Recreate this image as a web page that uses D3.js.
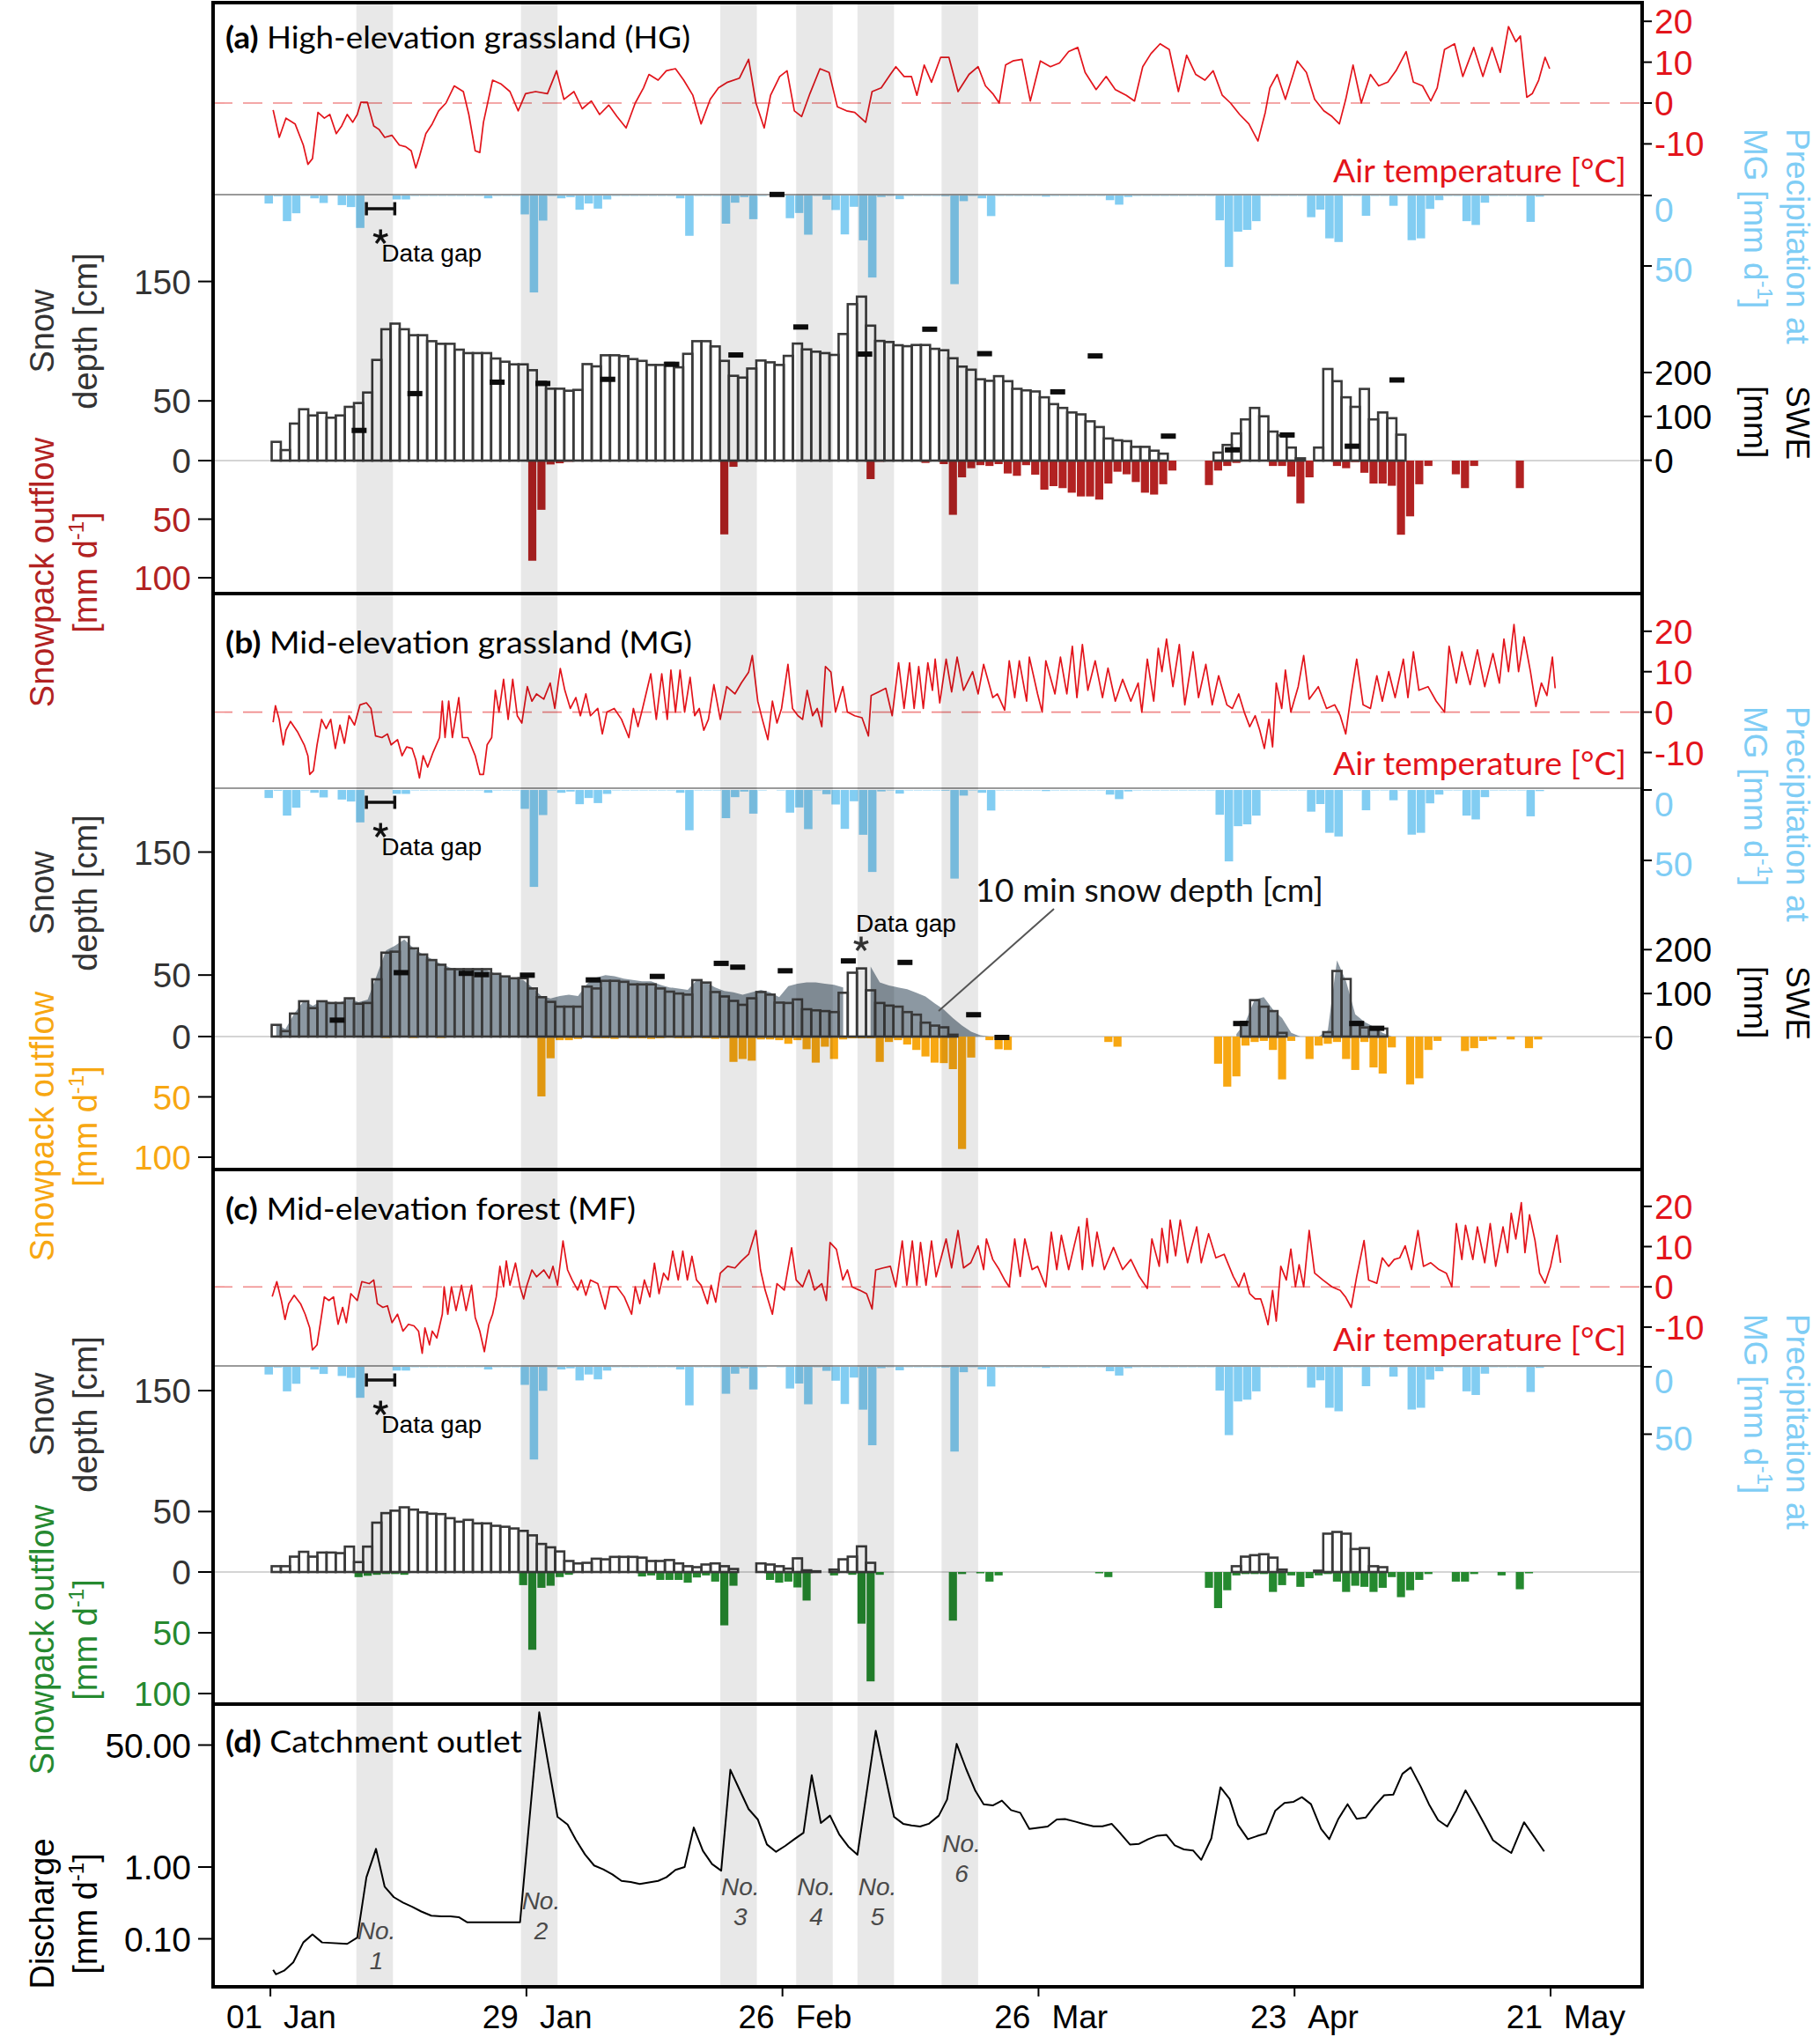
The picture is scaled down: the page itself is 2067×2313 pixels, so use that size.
<!DOCTYPE html>
<html><head><meta charset="utf-8"><title>Snowpack outflow and discharge</title>
<script src="https://cdn.jsdelivr.net/npm/d3@7/dist/d3.min.js"></script>
<style>html,body{margin:0;padding:0;background:#fff}svg{display:block}</style>
</head><body>
<svg id="chart" width="2067" height="2313" xmlns="http://www.w3.org/2000/svg"></svg>
<script>
// ---------------- DATA ----------------
const xTickDates = ['2018-01-01','2018-01-29','2018-02-26','2018-03-26','2018-04-23','2018-05-21'];
const xTickDayLabels = ['01','29','26','26','23','21'];
const xTickMonthLabels = ['Jan','Jan','Feb','Mar','Apr','May'];

// rain-on-snow event windows (start day after 01 Jan, length in days)
const eventStartDays = [9.4, 27.4, 49.2, 57.5, 64.2, 73.4];
const eventLengthDays = 4;
const eventNames = ['1','2','3','4','5','6'];

// daily precipitation at MG [mm/d], day 0 = 01 Jan
const precipMG = [5.7,0.5,18.2,12.6,0.3,2,5.3,0,6.8,8.2,
23,null,null,null,2.8,2.8,0.3,0.3,0.3,0.3,
0.3,0.3,0.3,0.3,2,0.3,0.3,0.3,13.4,68.8,
17.8,0.3,2,1.1,10.1,5.7,9.3,2.8,0.3,0.3,
0.3,0.3,0.3,0.3,0.3,2,28.6,0.3,0.3,0.3,
20,5.1,1.1,16.8,0.3,0,0.3,16.1,12.4,27.8,
0.3,3,10.3,27.6,8,31.8,58.2,1,0.3,2.6,
0.3,0.3,0.3,0.3,0.5,62.9,4,0.3,2,14.6,
0.3,0.3,0.3,0.3,0.3,0.8,0.3,0.3,0.3,0.3,
0.3,0.3,3.3,6.5,1,0.3,0.3,0.3,0.3,0.3,
0.3,0.3,0.3,0.3,17.6,50.7,25.7,24.4,18.2,0.3,
0.3,0.3,0.3,0.3,15.4,10,30.4,33,0.3,0.3,
14.4,0.3,0.3,7.3,0.3,31.7,30.4,9.5,3.3,0.3,
0.3,18.2,20.9,5.1,0.3,0.3,0.3,0.3,18.7,0.8];
const precipGapDays = [10.5, 13.6];

// daily snow depth [cm]
const snowHG = [15.7,8.8,31,43,37.8,40,35.9,37.8,45,48.2,
57,84.3,110,114.7,110,105,105,100,97.8,97.8,
92.9,90,90,90,85.5,82.8,80.6,80.6,75.7,66,
60.2,60.2,58.5,59.2,80.8,78.9,88.2,88.2,87.5,85,
83.5,80.1,80.1,81.8,78.1,89.4,100,100,95.6,83.5,
71,69.5,77.1,83.8,82.3,80.1,87.7,98,93.1,91.2,
90,88.5,106,131,137.3,113,100.2,99.3,96.6,95.8,
96.8,96.8,93.6,92.4,85.7,78.7,76.1,68.1,66.8,70.7,
66.5,60.1,58.8,57.9,53,47.3,44.1,40.3,38.7,32.9,
28.1,18.5,17,16.3,11.5,11.5,8.3,5.8,0,0,
0,0,0,6.7,13.1,22.7,34.5,44.1,37.1,24.3,
21.1,10.9,1.9,0,10.9,76.7,66.5,53,45,60,
34.5,40.3,35.5,21.7];
const snowMG = [9.5,4.4,18.7,28.7,23.1,28.7,27.3,27.3,31.1,26.7,
27.3,46.5,68.2,69,80.9,71.7,66.7,62.2,58.4,54.8,
54.8,54.8,54.8,54.8,51,48.9,47.4,47.4,39.1,32,
28.2,24.3,24.3,24.3,40.6,39.1,45.3,45.3,44.5,42.4,
42.4,42.4,39.1,36.5,35,34.1,45.9,43.9,36.2,32.6,
29,25.8,31.1,36.2,34.1,27.6,27.3,30.2,22.2,21.3,
20.7,19.9,35.6,51.9,55.4,37.6,27.3,25.2,24.3,19.9,
17.8,11.3,8.9,7.5,1.5,0,0,0,0,0,
0,0,0,0,null,null,null,null,null,null,
null,null,null,null,null,null,null,null,null,null,
0,0,0,null,null,0,11.9,29.6,24.3,20.7,
3,0,0,0,0,3.6,53.3,46.8,11.9,7.4,
7.4,6.5,0,0,0,0,0,0];
const snowMF = [4.8,4.8,12.7,16.7,12.7,16.1,16.1,15.6,21,8.2,
21,40.8,48.7,50.7,53.5,51.6,49.3,48.2,47.9,44.5,
41.6,43.1,40.2,40.2,38.2,37.4,36,34,30.3,23.2,
20.4,17,9.1,7.1,7.6,11,10.5,12.5,12.5,12.5,
11.9,9.1,9.1,9.9,7.1,4.8,4,6.2,7.1,4.8,
2.5,null,null,7.1,6.2,4.8,2.8,11.3,1.4,0.6,
null,2,10.5,12.7,21.2,7.6,null,null,null,null,
null,null,null,null,null,null,null,null,null,null,
null,null,null,null,null,null,null,null,null,null,
null,null,null,null,null,null,null,null,null,null,
null,null,null,null,null,4.8,12.7,13.9,14.7,11.9,
2,null,null,null,1.1,31.7,33.1,31.7,19,19.8,
4.8,4];
// 10 min snow depth at MG (daily reading of the high-resolution record) [cm]
const snow10minMG = [10,6,19,29,25,29,28,28,31,28,
30,50,70,74,79,72,67,63,59,56,
55,55,55,54,51,49,47,46,40,33,
31,33,34,33,43,48,50,49,47,46,
45,45,42,40,39,38,46,44,40,37,
36,34,36,38,36,32,41,43,44,44,
43,42,40,null,null,57,44,41.5,40,38.5,
35.6,32.6,27,22,15,9,4,1,0,0,
0,0,0,0,null,null,null,null,null,null,
null,null,null,null,null,null,null,null,null,null,
0,0,0,null,null,2,12,30,32,22,
15,3,0,0,0,5,62,45,18,12,
8,3,0,0,0,0,0,0];

// snowpack outflow [day, mm/d]
const outflowHG = [[28,85.5],[29,42],[30,3.3],[31,2.3],[32,1],[49,63],[50,5.3],[65,15.8],[66,1],[71,2],[73,3],[74,46.3],[75,14.3],[76,6.5],[77,3.9],[78,4.6],[79,3],[80,11],[81,13],[82,3.9],[83,12],[84,24.8],[85,21.8],[86,23.5],[87,27.4],[88,30.6],[89,30.6],[90,33.3],[91,19.6],[92,9.5],[93,11.7],[94,18.3],[95,27.4],[96,29],[97,20.2],[98,8.5],[102,20.9],[103,8.5],[104,4.6],[105,2],[106,0.6],[107,0.6],[109,4.6],[110,4.6],[111,13.7],[112,36.5],[113,14.3],[114,0.6],[116,4.6],[117,6.5],[118,1.3],[119,10.4],[120,19.6],[121,19.6],[122,21.5],[123,63.3],[124,47.6],[125,20.2],[126,4.6],[129,11.7],[130,23.5],[131,4.6],[136,23.5]];
const outflowMG = [[12,1.2],[15,1.2],[18,1.2],[29,49.6],[30,18],[31,3],[32,3],[33,2],[35,1.5],[36,1.5],[37,2],[38,1],[39,1.5],[40,1.5],[41,2],[42,1.5],[43,1],[44,1.5],[45,1.5],[46,1],[47,1.5],[48,2],[49,1.5],[50,21],[51,18.6],[52,20],[53,2.4],[54,2.4],[55,3],[56,6],[57,3],[58,10.5],[59,21.6],[60,8.4],[61,18.6],[62,2.4],[63,1.5],[64,1.5],[65,1.5],[66,21],[67,4.5],[68,3],[69,6.6],[70,11.1],[71,16.5],[72,21.6],[73,22],[74,27],[75,93.2],[76,17.4],[78,3],[79,10.5],[80,11.1],[91,4.5],[92,8.4],[103,22.5],[104,41.5],[105,33],[106,7.5],[107,4.5],[108,3.6],[109,11.1],[110,35.5],[111,3.6],[113,18.6],[114,7.5],[115,6],[116,4.5],[117,18.6],[118,27.7],[119,4.5],[120,25.6],[121,30.7],[122,9],[124,39.7],[125,34.6],[126,11.1],[127,3.6],[130,12],[131,9.6],[132,3.6],[133,2.4],[135,2.4],[137,9.6],[138,2.4]];
const outflowMF = [[9,4.2],[10,3.1],[11,2.3],[12,1.7],[13,1.7],[14,2.3],[27,10.8],[28,64],[29,13],[30,11.3],[31,4.2],[32,2.3],[40,3.7],[41,2.8],[42,6.5],[43,6.5],[44,6.5],[45,8.8],[46,4.5],[47,2.8],[48,7.9],[49,43.9],[50,11.3],[54,6.5],[55,8.8],[56,7.9],[57,12.7],[58,23.5],[61,2.8],[63,2.3],[64,42.5],[65,90],[66,2.3],[74,40],[75,1.7],[77,1.1],[78,7.9],[79,2.8],[90,1.1],[91,4.2],[102,13],[103,29.7],[104,15],[105,2.8],[106,1.7],[107,1.7],[108,1.7],[109,16.4],[110,10.8],[111,2.8],[112,12.2],[113,5.1],[114,2.8],[115,1.7],[116,7.9],[117,16.4],[118,11.3],[119,12.2],[120,16.4],[121,13],[122,4.2],[123,20.7],[124,15],[125,6.5],[126,1.7],[129,7.9],[130,7.9],[131,1.7],[134,2.8],[136,14.2],[137,1.1]];

// manual SWE measurements [day, mm]
const sweHG = [[9.7,68],[15.8,152],[24.8,178],[29.8,175],[36.9,184.5],[43.9,218.7],[50.9,240],[55.4,606],[58.0,303.8],[65.0,242],[72.1,298.8],[78.1,243],[86.1,156],[90.2,237.8],[98.2,55],[105.2,23.7],[111.2,57.6],[118.3,32],[123.2,183]];
const sweMG = [[7.3,39.4],[14.3,147.6],[21.4,146],[23.1,143],[28.1,141.8],[35.3,131],[42.3,139],[49.3,168.7],[51.1,160],[56.3,151.8],[63.2,174.3],[69.4,170.9],[76.9,51.7],[80,0],[106.1,31.7],[118.8,31.7],[121,20.8]];

// air temperature [day, degC]
const tempHG = [[0.3,-1.7],[0.97,-8.4],[1.7,-3.7],[2.7,-5.1],[3.6,-10.3],[4.1,-15],[4.6,-13.6],[5.2,-2.3],[5.9,-3.7],[6.5,-2.8],[7.2,-7.5],[7.8,-5.6],[8.4,-2.8],[9.0,-4.7],[9.5,-2.8],[9.9,0.2],[10.6,0.2],[11.3,-5.6],[11.9,-6.5],[12.5,-8.4],[13.3,-7.9],[14.1,-10.3],[14.8,-10.7],[15.4,-11.7],[15.9,-15.9],[16.3,-13.1],[17,-7.5],[17.7,-5.1],[18.4,-1.9],[19.2,0],[20.1,4.2],[21.1,2.8],[21.7,-2.8],[22.4,-11.7],[22.9,-12.1],[23.3,-4.7],[24.3,5.6],[25.2,4.7],[26.2,2.8],[27.1,-1.9],[27.9,2.3],[29,2.8],[30.3,2.3],[31.3,7.9],[32.1,0.9],[33.2,2.8],[34.1,-1.4],[35.1,0.5],[36,-2.8],[37,-0.5],[37.9,-3.3],[38.9,-6.1],[39.9,0],[40.8,3.7],[41.4,7],[42.4,5.6],[43.3,7.9],[44.3,8.4],[45.2,5.6],[46.2,1.9],[47.1,-5.1],[48.1,0.9],[49,3.7],[50,5.1],[51.3,6.1],[52.3,10.7],[53.1,0],[54,-6.1],[54.7,1.9],[55.7,6.5],[56.5,7.9],[57.3,-1.9],[58.1,-3.3],[59,2.3],[60.1,8.4],[61.1,7.5],[62,-0.9],[63,-1.9],[63.9,-2.3],[65.1,-4.7],[65.8,2.8],[66.8,3.7],[67.8,7],[68.4,8.9],[69.3,6.5],[70.1,6.5],[70.7,1.9],[71.5,9.3],[72.3,5.1],[73.3,11.2],[74.2,11.2],[75.2,2.8],[76.4,7],[77.4,8.9],[78.2,4.2],[79,2.3],[79.7,0],[80.4,9.3],[81.2,10.3],[82.2,10.7],[83.1,0.5],[84.2,10.3],[85.3,8.9],[86.3,9.8],[87.3,12.6],[88.3,13.6],[89.1,7.5],[90.3,3.3],[91.4,6.5],[92.4,3.3],[93.6,1.9],[94.5,0.5],[95.4,8.9],[96.3,12.1],[97.3,14.5],[98.3,13.1],[99.3,2.8],[100.2,11.7],[101.2,7],[102.2,5.6],[103.1,7.9],[104.1,1.9],[105,0],[106,-2.8],[107,-5.1],[108,-9.3],[108.8,-2.3],[109.3,3.7],[110.1,7],[111,0.9],[112.3,10.3],[113.3,7.5],[114.2,0.9],[115.2,-1.9],[116.1,-3.3],[116.9,-5.1],[117.6,0.9],[118.4,9.3],[119.3,0],[120.3,7],[121.2,4.2],[122.2,5.1],[123.1,7.9],[124.2,12.6],[125,5.1],[126,4.2],[126.9,0.5],[127.6,3.7],[128.4,13.1],[129.5,14.5],[130.4,6.5],[131.6,13.6],[132.6,6.5],[133.6,13.6],[134.5,7.5],[135.4,18.7],[136.2,15],[136.7,16.4],[137.4,1.4],[138,2.3],[138.7,5.6],[139.4,11.2],[139.9,8.4]];
const tempMG = [[0.3,-2.5],[0.55,1.6],[0.96,-1.8],[1.4,-8.1],[1.7,-4.5],[2.2,-2.3],[3.0,-5],[3.7,-8.1],[4.1,-10.8],[4.3,-15.4],[4.7,-14.5],[5.1,-8.1],[5.6,-1.8],[6.1,-4.1],[6.6,-1.8],[7.1,-9],[7.6,-3.2],[8.1,-7.7],[8.6,-0.9],[9.2,-3.2],[9.8,1.8],[10.5,2.3],[11.0,0.9],[11.5,-5.9],[12.2,-6.3],[12.8,-5.4],[13.2,-8.1],[13.9,-6.8],[14.4,-10.8],[14.9,-8.6],[15.5,-9],[15.9,-11.8],[16.3,-16.3],[16.7,-10.8],[17.2,-13.6],[17.8,-9.9],[18.5,-6.3],[18.8,2.7],[19.1,-6.3],[19.5,2.7],[19.9,-6.3],[20.6,3.6],[21.0,-6.3],[21.6,-6.3],[22.4,-10.8],[22.9,-15.4],[23.3,-15.4],[23.7,-8.1],[24.2,-6.3],[24.6,5.4],[25.0,0],[25.5,8.1],[26.0,-1.8],[26.5,8.1],[27.0,-0.9],[27.5,-2.7],[28.1,6.3],[28.6,2.7],[29.1,4.5],[29.9,3.2],[30.6,7.2],[31.1,0.9],[31.7,10.8],[32.2,5.4],[32.8,0.9],[33.4,3.6],[33.9,-0.9],[34.5,4.5],[35.0,-0.9],[35.8,0.9],[36.3,-5.4],[36.8,0],[37.6,0.9],[38.4,-1.8],[39.2,-6.3],[39.7,0.9],[40.2,-3.6],[40.7,0.9],[41.6,9.5],[42.2,-1.8],[42.8,9.5],[43.4,-1.8],[43.8,10.4],[44.3,0],[44.8,10.4],[45.3,0],[45.9,8.6],[46.4,-0.9],[46.9,0.9],[47.4,-4.5],[47.9,-1.8],[48.5,6.8],[49.2,-1.8],[49.9,6.3],[50.8,4.5],[51.5,7.2],[52.3,9.9],[52.7,14],[53.3,2.7],[53.8,-1.8],[54.4,-6.8],[54.9,2.7],[55.4,-2.7],[55.9,0.9],[56.6,11.8],[57.1,0.9],[57.7,-0.9],[58.2,-1.8],[58.7,5.4],[59.3,-0.9],[59.8,0.9],[60.3,-3.6],[60.7,11.3],[61.3,9.9],[61.8,0],[62.6,6.3],[63.1,0],[63.9,-0.9],[64.7,-1.4],[65.4,-5.9],[65.7,4.1],[66.5,5],[67.3,5.9],[68.0,-0.9],[68.7,12.2],[69.3,0.9],[69.9,12.2],[70.4,0.9],[70.9,11.3],[71.4,0.9],[71.9,12.2],[72.4,5.4],[72.7,13.1],[73.2,2.3],[73.9,13.1],[74.5,5],[75.1,13.6],[75.8,5.4],[76.8,10],[77.4,4.5],[78,11.8],[79,3.6],[79.5,4.5],[80.3,0.5],[80.8,12.7],[81.4,3.6],[81.9,12.7],[82.7,2.7],[83,13.6],[83.9,4.5],[84.4,0],[84.8,12.7],[85.8,4.5],[86.4,13.6],[87.1,4.5],[87.7,16.3],[88.2,3.6],[88.8,16.7],[89.4,5.4],[90.2,12.7],[91,3.6],[91.6,10.9],[92.4,2.7],[93.2,8.1],[94.1,2.7],[94.9,7.2],[95.3,0],[95.9,13.1],[96.6,2.7],[97.1,15.8],[97.5,10],[98,18.1],[98.7,6.3],[99.4,16.7],[100,1.8],[100.9,14.9],[101.5,3.6],[102.3,11.8],[103,1.8],[103.7,9],[104.6,1.8],[105.2,0.9],[105.9,4.5],[106.5,0],[107.1,-3.6],[107.7,-0.9],[108.2,-4.5],[108.7,-9],[109.2,-1.8],[109.6,-8.6],[110,7.2],[110.6,0.9],[111,10.4],[111.6,0],[112.4,6.3],[113,14],[113.6,3.2],[114.6,6.3],[115.5,0.9],[116.4,1.8],[117,-0.9],[117.6,-5.4],[118.2,4.5],[118.8,13.1],[119.5,1.8],[120.3,0.9],[121,9],[121.6,2.7],[122.3,10],[123,3.6],[123.9,13.1],[124.4,3.6],[125,14.9],[125.6,5.4],[126.6,6.3],[127.5,2.7],[128.4,0],[128.9,16.3],[129.7,7.2],[130.3,14.9],[131.2,6.8],[132,15.4],[132.8,6.3],[133.7,14.5],[134.4,7.2],[134.9,18.1],[135.4,10],[136,21.7],[136.5,10],[137.1,18.6],[137.8,10],[138.4,1.4],[139,7.2],[139.6,4.1],[140.2,13.6],[140.5,5.9]];
const tempMF = [[0.2,-2.4],[0.7,1.3],[1.2,-3.4],[1.6,-8.1],[2,-4.2],[2.6,-2.1],[3.3,-4.2],[3.8,-6.8],[4.3,-10.2],[4.6,-15.7],[5.1,-14.4],[5.5,-8.5],[5.9,-2.5],[6.4,-3.4],[6.9,-2.5],[7.4,-9.3],[7.9,-5.1],[8.3,-8.9],[8.8,-1.7],[9.5,-3.4],[10,1.3],[10.8,0.8],[11.3,1.7],[11.7,-4.2],[12.3,-5.1],[12.8,-4.7],[13.3,-8.9],[13.9,-6.8],[14.5,-11],[15.1,-9.3],[15.7,-9.7],[16.2,-11],[16.6,-16.5],[16.9,-10.2],[17.4,-14.4],[17.7,-11],[18.2,-12.7],[18.8,-6.8],[19,0],[19.4,-6.8],[19.8,0],[20.3,-5.9],[20.9,0.4],[21.4,-5.9],[22,0.4],[22.4,-7.6],[22.9,-11],[23.4,-16.1],[23.9,-9.3],[24.3,-6.8],[24.7,-2.5],[25.1,5.1],[25.5,0],[25.8,6.4],[26.2,0.4],[26.8,5.9],[27.3,0],[27.7,-3],[28,0],[28.6,4.2],[29.1,2.5],[29.9,4.2],[30.5,2.1],[30.9,5.1],[31.4,0.4],[32,11.4],[32.5,4.2],[33,1.7],[33.6,-0.8],[34,1.7],[34.5,-2.1],[35,1.7],[35.8,0.8],[36.6,-5.5],[37.1,0],[37.9,0],[38.7,-2.5],[39.5,-6.8],[39.9,0],[40.4,-4.2],[40.9,1.7],[41.5,-2.5],[42,5.9],[42.5,-1.7],[43,3.4],[43.5,1.7],[44,8.9],[44.6,1.7],[45.1,8.9],[45.6,1.7],[46.1,7.6],[46.6,1.7],[47.1,0.4],[47.8,-4.2],[48.2,0.4],[48.7,-3.8],[49.2,3.4],[50,5.1],[50.8,4.7],[51.5,6.4],[52.3,8.1],[53.1,14],[53.6,4.2],[54.1,-0.8],[54.9,-6.8],[55.4,0.8],[56.2,-0.8],[57,9.7],[57.5,1.7],[58.2,0],[58.9,4.2],[59.5,-0.8],[60.3,0.8],[60.8,-3.4],[61.2,11],[61.9,9.3],[62.6,1.7],[63.1,4.2],[63.6,0],[64.4,-0.8],[65.2,-1.7],[65.8,-5.5],[66.2,4.2],[67,4.7],[67.8,5.1],[68.4,0],[69.1,11.4],[69.6,0.4],[70.2,11.4],[70.7,0.4],[71.1,11],[71.7,0.4],[72.3,11.4],[72.8,2.5],[73.9,11.9],[74.5,4.7],[75.2,14],[75.8,4.7],[76.6,6],[77.4,10.2],[78,4.3],[78.3,11.9],[79,6.8],[79.7,4.3],[80.3,1.7],[80.8,0],[81.4,11.9],[82,2.6],[82.5,11.9],[83.3,4.3],[83.9,5.1],[84.8,0],[85.4,13.6],[86,4.3],[86.5,12.8],[87.3,4.3],[87.9,10.2],[88.4,14.9],[88.8,4.3],[89.3,17],[89.9,5.1],[90.4,13.6],[91.2,4.3],[92.2,9.8],[93.2,4.3],[94.1,6.8],[95,2.6],[95.9,-0.4],[96.4,11.9],[97.2,5.1],[97.5,14.5],[98.1,6],[98.4,16.6],[99,7.7],[99.5,16.6],[100.3,6],[101.3,14.9],[101.8,6],[102.6,13.2],[103.4,7.2],[104.3,8.1],[105.3,2.6],[105.9,0],[106.5,3.4],[107.1,-1.7],[107.7,-3],[108.3,-3],[108.6,-5.1],[109.1,-9.4],[109.6,-0.9],[110,-8.5],[110.5,5.1],[111.1,1.7],[111.6,9.4],[112.1,0],[112.5,5.5],[113,0],[113.6,14],[114.2,3.4],[115.1,1.7],[116.1,0],[117,-0.9],[117.6,-2.6],[118.2,-5.1],[118.8,2.6],[119.6,11.5],[120.1,1.7],[121,0.9],[121.6,7.2],[122.3,5.1],[122.9,6.8],[123.5,7.2],[124.1,10.2],[124.8,4.3],[125.5,14],[126.1,5.1],[126.9,6],[127.8,4.3],[128.6,3.4],[129.2,0],[129.7,15.7],[130.3,6.8],[130.7,15.3],[131.5,6.8],[132,14.9],[132.8,6],[133.4,15.7],[134,5.1],[134.8,14.9],[135.3,8.5],[135.7,18.3],[136.2,11.9],[136.8,20.9],[137.2,8.5],[137.7,17.9],[138.3,11.5],[138.8,3.4],[139.4,0.9],[140,5.1],[140.7,12.8],[141.1,6]];

// catchment outlet discharge [day, mm/d]
const dischargeOutlet = [[0.3,0.037],[0.6,0.032],[1.5,0.036],[2.5,0.047],[3.6,0.089],[4.6,0.115],[5.65,0.089],[8.4,0.085],[9.5,0.104],[10.5,0.72],[11.55,1.79],[12.5,0.53],[13.5,0.38],[14.5,0.32],[15.5,0.28],[16.5,0.24],[17.6,0.21],[18.7,0.205],[19.7,0.205],[20.6,0.2],[21.5,0.17],[27.3,0.17],[29.4,143],[31.4,5.0],[32.5,3.9],[33.4,2.4],[34.4,1.5],[35.4,1.05],[36.4,0.93],[37.4,0.79],[38.4,0.64],[39.4,0.62],[40.4,0.58],[41.4,0.61],[42.4,0.64],[43.3,0.72],[44.3,0.91],[45.3,1.0],[46.3,3.55],[47.3,1.68],[48.3,1.1],[49.3,0.89],[50.3,22.6],[51.3,12],[52.3,6.4],[53.3,4.6],[54.3,2.06],[55.3,1.63],[56.3,1.97],[57.3,2.44],[58.3,3.0],[59.2,19],[60.2,4.1],[61.2,5.2],[62.2,2.86],[63.2,1.93],[64.2,1.48],[66.2,79],[68.2,5.0],[69.2,4.0],[70.1,3.8],[71.05,3.66],[72,4.0],[73.1,5.2],[74,8.7],[75.05,52],[76.1,23],[77.1,11.5],[78,7.5],[79,7.2],[80,8.4],[81,6.2],[82,5.7],[83,3.4],[84.1,3.55],[85,3.66],[86,4.6],[86.9,4.65],[88,4.3],[88.9,4.0],[90,3.7],[91,3.7],[92,4.0],[93,2.9],[94,2.06],[95,2.1],[96,2.44],[97,2.73],[98,2.8],[98.9,2.0],[99.9,1.76],[100.9,1.7],[101.8,1.26],[102.9,2.5],[103.9,12.9],[104.9,8.9],[105.8,3.9],[106.9,2.44],[107.9,2.7],[108.9,2.95],[109.9,6.1],[110.9,7.8],[111.9,8.1],[112.8,9.4],[113.8,7.5],[114.9,3.4],[115.8,2.44],[116.8,4.7],[117.8,7.5],[118.8,4.7],[119.8,4.9],[120.8,7.2],[121.8,10],[122.8,10.2],[123.8,19.9],[124.7,24.4],[125.8,13.2],[126.7,7.5],[127.7,4.5],[128.7,3.66],[129.7,6.2],[130.7,11.7],[131.7,7.0],[132.7,4.1],[133.7,2.37],[134.7,1.9],[135.7,1.57],[137.1,4.2],[139.3,1.65]];

const tempTicks = [20, 10, 0, -10];
const precipTicks = [0, 50];
const sweTicks = [200, 100, 0];
const snowTicks = [150, 50, 0];
const outflowTicks = [50, 100];
const dischargeTicks = [50, 1, 0.1];

// ---------------- LAYOUT / STYLE ----------------
const START = Date.UTC(2018, 0, 1);
const day = d => new Date(START + d * 86400000);
const x = d3.scaleUtc().domain([day(0), day(140)]).range([307.1, 1761]);
const xd = d => x(day(d));
const DW = xd(1) - xd(0);
const SNOW_SHIFT = 0.14, PRECIP_SHIFT = -0.68;
const L = 242, R = 1865;
const ARIAL = "'Liberation Sans', Arial, Helvetica, sans-serif";
const CAL = "Lato, 'Open Sans', 'Noto Sans', sans-serif";
const RED = '#e3141b', BLUE = '#82cdf2', SNOWGREY = '#333333';

const svg = d3.select('#chart');
const gData = svg.append('g');
const gBand = svg.append('g');
const gFrame = svg.append('g');
const gText = svg.append('g');

const panels = [
  {top:3, bottom:674, t0:117, t10:70.6, sep:221, p0:222, p50:302, s0:523, s150:319.6, o100:656,
   swe0:522.6, swe200:423, snow:snowHG, out:outflowHG, temp:tempHG, swe:sweHG, tenMin:null,
   outColor:'#b22222', tag:'(a)', title:' High-elevation grassland (HG)', titleY:55, titleW:528,
   airY:207, snowTitleY:376, outTitleY:650, precipTitleY:146, sweTitleY:438},
  {top:674, bottom:1328, t0:808.6, t10:762.7, sep:895, p0:897, p50:977, s0:1177, s150:967.5, o100:1314,
   swe0:1178, swe200:1078.3, snow:snowMG, out:outflowMG, temp:tempMG, swe:sweMG, tenMin:snow10minMG,
   outColor:'#f7a712', tag:'(b)', title:' Mid-elevation grassland (MG)', titleY:742, titleW:530,
   airY:880, snowTitleY:1014, outTitleY:1279, precipTitleY:802, sweTitleY:1097},
  {top:1328, bottom:1935, t0:1461.2, t10:1415.5, sep:1551, p0:1552, p50:1628.5, s0:1785, s150:1579, o100:1923,
   swe0:null, snow:snowMF, out:outflowMF, temp:tempMF, swe:null, tenMin:null,
   outColor:'#25892f', tag:'(c)', title:' Mid-elevation forest (MF)', titleY:1385, titleW:466,
   airY:1534, snowTitleY:1606, outTitleY:1862, precipTitleY:1492, sweTitleY:null}
];

function hline(g, y, x1, x2, color, w, dash) {
  const l = g.append('line').attr('x1', x1).attr('x2', x2).attr('y1', y).attr('y2', y)
    .attr('stroke', color).attr('stroke-width', w);
  if (dash) l.attr('stroke-dasharray', dash);
  return l;
}
function leftTick(y, label, color) {
  gFrame.append('line').attr('x1', L - 17).attr('x2', L).attr('y1', y).attr('y2', y).attr('stroke', '#000').attr('stroke-width', 2);
  gText.append('text').attr('x', 217).attr('y', y).attr('dy', '0.36em').attr('text-anchor', 'end')
    .attr('font-family', ARIAL).attr('font-size', 39).attr('fill', color).text(label);
}
function rightTick(y, label, color, dy) {
  gFrame.append('line').attr('x1', R).attr('x2', R + 11).attr('y1', y).attr('y2', y).attr('stroke', '#000').attr('stroke-width', 2);
  gText.append('text').attr('x', R + 14).attr('y', y + (dy || 0)).attr('dy', '0.36em').attr('text-anchor', 'start')
    .attr('font-family', ARIAL).attr('font-size', 39).attr('fill', color).text(label);
}
function unitText(sel, pre) {
  sel.append('tspan').text(pre + '[mm d');
  sel.append('tspan').attr('font-size', 24).attr('dy', -15).text('-1');
  sel.append('tspan').attr('dy', 15).text(']');
}
function leftTitle(y, line1, line2isUnit, line2, color) {
  const g = gText.append('g').attr('font-family', ARIAL).attr('font-size', 38).attr('fill', color).attr('text-anchor', 'middle');
  g.append('text').attr('transform', `translate(61,${y}) rotate(-90)`).text(line1);
  const t = g.append('text').attr('transform', `translate(110,${y}) rotate(-90)`);
  if (line2isUnit) unitText(t, ''); else t.text(line2);
}
function rightTitle(y, line1, line2isUnit, line2, color) {
  const g = gText.append('g').attr('font-family', ARIAL).attr('font-size', 37).attr('fill', color).attr('text-anchor', 'start');
  g.append('text').attr('transform', `translate(2029,${y}) rotate(90)`).text(line1);
  const t = g.append('text').attr('transform', `translate(1981,${y}) rotate(90)`);
  if (line2isUnit) unitText(t, line2); else t.text(line2);
}
function dataGap(x0, x1, y) {
  const g = gText.append('g').attr('stroke', '#111').attr('stroke-width', 3.5);
  g.append('line').attr('x1', x0).attr('x2', x1).attr('y1', y).attr('y2', y);
  g.append('line').attr('x1', x0).attr('x2', x0).attr('y1', y - 7.5).attr('y2', y + 7.5);
  g.append('line').attr('x1', x1).attr('x2', x1).attr('y1', y - 7.5).attr('y2', y + 7.5);
}
// asterisk drawn as a small five-armed star mark
function asterisk(cx, cy, r, color) {
  const g = gText.append('g').attr('stroke', color).attr('stroke-width', 3.4).attr('stroke-linecap', 'butt');
  d3.range(5).forEach(k => {
    const a = -Math.PI / 2 + k * 2 * Math.PI / 5;
    g.append('line').attr('x1', cx).attr('y1', cy).attr('x2', cx + r * Math.cos(a)).attr('y2', cy + r * Math.sin(a));
  });
}

panels.forEach(p => {
  const g = gData.append('g');
  const yT = d3.scaleLinear().domain([0, 10]).range([p.t0, p.t10]);
  const yP = d3.scaleLinear().domain([0, 50]).range([p.p0, p.p50]);
  const yS = d3.scaleLinear().domain([0, 150]).range([p.s0, p.s150]);
  const yO = d3.scaleLinear().domain([0, 100]).range([p.s0, p.o100]);

  hline(g, p.sep, L, R, '#9a9a9a', 2);
  hline(g, p.s0, L, R, '#c6c6c6', 1.6);
  hline(g, yT(0), L, R, '#f08a8a', 1.6, '22 12');

  if (p.tenMin) {
    g.append('path').datum(p.tenMin)
      .attr('d', d3.area().defined(v => v != null).x((v, i) => xd(i + SNOW_SHIFT + 0.5)).y0(p.s0).y1(v => yS(v)))
      .attr('fill', '#8c98a2');
  }
  g.append('g').selectAll('rect').data(precipMG.map((v, j) => ({j, v})).filter(d => d.v > 0)).join('rect')
    .attr('x', d => xd(d.j + PRECIP_SHIFT) + 0.4).attr('width', DW - 0.8)
    .attr('y', p.p0).attr('height', d => yP(d.v) - p.p0).attr('fill', BLUE);
  g.append('g').selectAll('rect').data(p.out).join('rect')
    .attr('x', d => xd(d[0] + SNOW_SHIFT) + 0.6).attr('width', DW - 1.2)
    .attr('y', p.s0).attr('height', d => yO(d[1]) - p.s0).attr('fill', p.outColor);
  g.append('g').selectAll('rect').data(p.snow.map((v, i) => ({i, v})).filter(d => d.v != null)).join('rect')
    .attr('x', d => xd(d.i + SNOW_SHIFT)).attr('width', DW)
    .attr('y', d => yS(d.v)).attr('height', d => p.s0 - yS(d.v))
    .attr('fill', 'none').attr('stroke', '#3a3a3a').attr('stroke-width', 2.6);
  if (p.swe) {
    const yW = d3.scaleLinear().domain([0, 200]).range([p.swe0, p.swe200]);
    g.append('g').selectAll('rect').data(p.swe).join('rect')
      .attr('x', d => xd(d[0]) - 8.5).attr('width', 17).attr('y', d => yW(d[1]) - 3).attr('height', 6)
      .attr('fill', '#0d0d0d');
    sweTicks.forEach(v => rightTick(yW(v), String(v), '#000'));
  }
  g.append('path').datum(p.temp)
    .attr('d', d3.line().x(d => xd(d[0])).y(d => yT(d[1])))
    .attr('fill', 'none').attr('stroke', RED).attr('stroke-width', 1.7).attr('stroke-linejoin', 'round');

  // frame and axes
  gFrame.append('rect').attr('x', L).attr('y', p.top).attr('width', R - L).attr('height', p.bottom - p.top)
    .attr('fill', 'none').attr('stroke', '#000').attr('stroke-width', 4);
  snowTicks.forEach(v => leftTick(yS(v), String(v), SNOWGREY));
  outflowTicks.forEach(v => leftTick(yO(v), String(v), p.outColor));
  tempTicks.forEach(v => rightTick(yT(v), String(v), RED));
  precipTicks.forEach(v => rightTick(yP(v), String(v), '#7fcdf5', v === 0 ? 16 : 4));

  // texts
  const tt = gText.append('text').attr('x', 256).attr('y', p.titleY).attr('font-family', CAL).attr('font-size', 35)
    .attr('fill', '#000').attr('textLength', p.titleW).attr('lengthAdjust', 'spacingAndGlyphs');
  tt.append('tspan').attr('font-weight', 700).text(p.tag);
  tt.append('tspan').text(p.title);
  gText.append('text').attr('x', 1847).attr('y', p.airY).attr('text-anchor', 'end').attr('font-family', CAL)
    .attr('font-size', 36).attr('fill', RED).attr('textLength', 333).attr('lengthAdjust', 'spacingAndGlyphs')
    .text('Air temperature [°C]');
  leftTitle(p.snowTitleY, 'Snow', false, 'depth [cm]', SNOWGREY);
  leftTitle(p.outTitleY, 'Snowpack outflow', true, '', p.outColor);
  rightTitle(p.precipTitleY, 'Precipitation at', true, 'MG ', '#7fcdf5');
  if (p.sweTitleY) rightTitle(p.sweTitleY, 'SWE', false, '[mm]', '#000');

  // data gap notes in the precipitation record
  const gy = p.sep + 16;
  const gx0 = xd(precipGapDays[0]), gx1 = xd(precipGapDays[1]);
  dataGap(gx0, gx1, gy);
  asterisk((gx0 + gx1) / 2, gy + 32, 8.5, '#111');
  gText.append('text').attr('x', (gx0 + gx1) / 2 + 1).attr('y', gy + 60).attr('font-family', ARIAL)
    .attr('font-size', 27).attr('fill', '#000').attr('textLength', 114).attr('lengthAdjust', 'spacingAndGlyphs').text('Data gap');
});

// panel (b) extra annotations
gText.append('text').attr('x', 972).attr('y', 1058).attr('font-family', ARIAL).attr('font-size', 27).attr('fill', '#000')
  .attr('textLength', 114).attr('lengthAdjust', 'spacingAndGlyphs').text('Data gap');
asterisk(978, 1072, 8.5, '#333');
gText.append('text').attr('x', 1108).attr('y', 1024).attr('font-family', CAL).attr('font-size', 36).attr('fill', '#111')
  .attr('textLength', 395).attr('lengthAdjust', 'spacingAndGlyphs').text('10 min snow depth [cm]');
gText.append('line').attr('x1', 1197).attr('y1', 1032).attr('x2', 1066).attr('y2', 1148).attr('stroke', '#555').attr('stroke-width', 2);

// panel (d) discharge
const dTop = 1935, dBottom = 2256;
const yQ = d3.scaleLog().domain([0.1, 50]).range([2201.5, 1981.5]);
gData.append('path').datum(dischargeOutlet)
  .attr('d', d3.line().x(d => xd(d[0])).y(d => yQ(d[1])))
  .attr('fill', 'none').attr('stroke', '#000').attr('stroke-width', 2).attr('stroke-linejoin', 'round');
gFrame.append('rect').attr('x', L).attr('y', dTop).attr('width', R - L).attr('height', dBottom - dTop)
  .attr('fill', 'none').attr('stroke', '#000').attr('stroke-width', 4);
dischargeTicks.forEach(v => leftTick(yQ(v), d3.format('.2f')(v), '#000'));
{
  const tt = gText.append('text').attr('x', 256).attr('y', 1990).attr('font-family', CAL).attr('font-size', 35)
    .attr('textLength', 337).attr('lengthAdjust', 'spacingAndGlyphs');
  tt.append('tspan').attr('font-weight', 700).text('(d)');
  tt.append('tspan').text(' Catchment outlet');
}
leftTitle(2173, 'Discharge', true, '', '#000');

// event bands and labels
gBand.selectAll('rect').data(eventStartDays).join('rect')
  .attr('x', d => xd(d)).attr('width', d => xd(d + eventLengthDays) - xd(d))
  .attr('y', 3).attr('height', 2258 - 3).attr('fill', '#000').attr('opacity', 0.09);
const eventLabelY = [2202, 2168, 2152, 2152, 2152, 2103];
eventStartDays.forEach((s, k) => {
  const cx = xd(s + eventLengthDays / 2) + 2;
  const t = gText.append('g').attr('font-family', ARIAL).attr('font-style', 'italic').attr('font-size', 28)
    .attr('fill', '#4a4a4a').attr('text-anchor', 'middle');
  t.append('text').attr('x', cx).attr('y', eventLabelY[k]).text('No.');
  t.append('text').attr('x', cx).attr('y', eventLabelY[k] + 34).text(eventNames[k]);
});

// x axis
xTickDates.forEach((ds, k) => {
  const xx = x(new Date(ds + 'T00:00:00Z'));
  gFrame.append('line').attr('x1', xx).attr('x2', xx).attr('y1', dBottom).attr('y2', dBottom + 11).attr('stroke', '#000').attr('stroke-width', 2);
  gText.append('text').attr('x', xx - 9).attr('y', 2303).attr('text-anchor', 'end').attr('font-family', ARIAL)
    .attr('font-size', 37).attr('fill', '#000').text(xTickDayLabels[k]);
  gText.append('text').attr('x', xx + 15).attr('y', 2303).attr('text-anchor', 'start').attr('font-family', ARIAL)
    .attr('font-size', 37).attr('fill', '#000').text(xTickMonthLabels[k]);
});
</script>
</body></html>
